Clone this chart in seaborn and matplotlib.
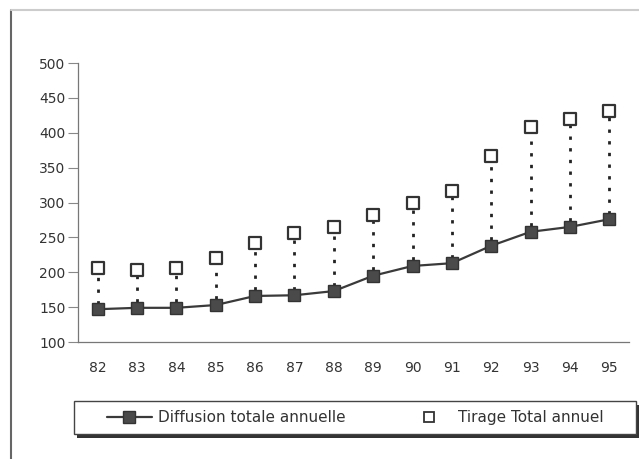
import numpy as np
import pandas as pd
import matplotlib
matplotlib.use("Agg")
import matplotlib.pyplot as plt
import seaborn as sns
from matplotlib.lines import Line2D
from matplotlib.patches import Rectangle

# --- Donnees ---
annees = ["82", "83", "84", "85", "86", "87", "88", "89", "90", "91", "92", "93", "94", "95"]
diffusion = [147, 149, 149, 153, 166, 167, 173, 195, 209, 213, 238, 258, 265, 276]
tirage = [206, 203, 206, 220, 242, 256, 265, 282, 299, 316, 367, 408, 420, 431]

df = pd.DataFrame({"annee": annees, "diffusion": diffusion, "tirage": tirage})

sns.set_style("white")
plt.rcParams["font.family"] = ["DejaVu Sans"]

W, H = 639, 459
fig = plt.figure(figsize=(W / 100, H / 100), dpi=100)
ax = fig.add_axes([78 / W, 1 - 342 / H, 551 / W, 279 / H])

pos = np.arange(len(annees))

# lignes pointillees entre diffusion et tirage
ax.vlines(pos, df["diffusion"] + 8, df["tirage"] - 8, colors="#222222",
          linestyles=(0, (1.2, 3.0)), linewidth=2.0, zorder=1)

sns.lineplot(data=df, x="annee", y="diffusion", ax=ax, color="#3a3a3a",
             linewidth=1.6, marker="s", markersize=8, markerfacecolor="#4a4a4a",
             markeredgecolor="#333333", markeredgewidth=1.0, sort=False, zorder=3)
sns.scatterplot(data=df, x="annee", y="tirage", ax=ax, marker="s", s=80,
                facecolor="white", edgecolor="#333333", linewidth=1.6, zorder=3)

ax.set_xlim(-0.5, len(annees) - 0.5)
ax.set_ylim(100, 500)
ax.set_yticks(range(100, 501, 50))
ax.set_xlabel("")
ax.set_ylabel("")

for side in ["top", "right"]:
    ax.spines[side].set_visible(False)
for side in ["left", "bottom"]:
    ax.spines[side].set_color("#777777")
    ax.spines[side].set_linewidth(0.9)

ax.set_xticks(pos)
ax.set_xticklabels(annees)
ax.set_xticks(pos[:-1] + 0.5, minor=True)
ax.tick_params(axis="x", which="major", length=0, pad=14, labelsize=10, labelcolor="#333333")
ax.tick_params(axis="x", which="minor", direction="inout", length=8, width=1.0, color="#555555")
ax.tick_params(axis="y", which="major", direction="out", length=7.5, width=0.8,
               color="#888888", labelsize=10, labelcolor="#333333", pad=1.5, left=True)

# cadre de la legende avec ombre
fig.add_artist(Rectangle((77 / W, 1 - 438 / H), 562 / W, 33 / H, transform=fig.transFigure,
                         facecolor="#333333", edgecolor="none", zorder=4))
fig.add_artist(Rectangle((74 / W, 1 - 434 / H), 562 / W, 33 / H, transform=fig.transFigure,
                         facecolor="white", edgecolor="#444444", linewidth=1.0, zorder=5))

handles = [
    Line2D([0], [0], color="#3a3a3a", linewidth=1.6, marker="s", markersize=8,
           markerfacecolor="#4a4a4a", markeredgecolor="#333333"),
    Line2D([0], [0], linestyle="none", marker="s", markersize=7,
           markerfacecolor="white", markeredgecolor="#333333", markeredgewidth=1.3),
]
leg = fig.legend(handles, ["Diffusion totale annuelle", "Tirage Total annuel"],
                 loc="center", bbox_to_anchor=(355 / W, 1 - 417.5 / H),
                 ncol=2, fontsize=11, frameon=False, borderaxespad=0,
                 handlelength=2.95, handletextpad=0.4, columnspacing=4.0)
leg.set_zorder(6)
for t in leg.get_texts():
    t.set_color("#333333")

# cadre du graphique
fig.add_artist(Line2D([0.017, 0.017], [0.0, 0.978], transform=fig.transFigure,
                      color="#666666", linewidth=1.5))
fig.add_artist(Line2D([0.017, 1.0], [0.978, 0.978], transform=fig.transFigure,
                      color="#cccccc", linewidth=1.5))

fig.savefig("out.png", dpi=100)
